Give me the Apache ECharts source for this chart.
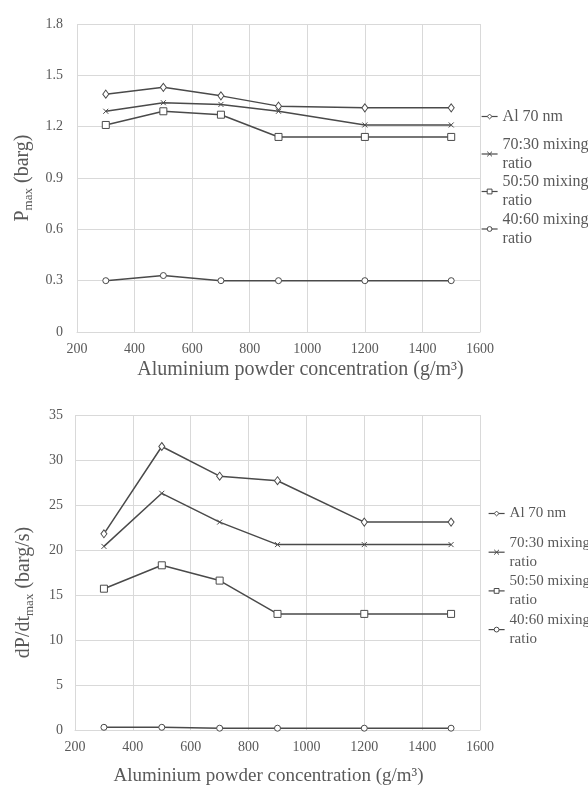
<!DOCTYPE html>
<html>
<head>
<meta charset="utf-8">
<script src="https://cdn.jsdelivr.net/npm/echarts@6/dist/echarts.min.js"></script>
<style>
  html, body { margin: 0; padding: 0; background: #ffffff; }
  #main { width: 588px; height: 787px; }
</style>
</head>
<body>
<div id="main"></div>
<script>
// concentrations (g/m3)
const concentrations = [300, 500, 700, 900, 1200, 1500];
const seriesNames = ['Al 70 nm', '70:30 mixing ratio', '50:50 mixing ratio', '40:60 mixing ratio'];

// Pmax (barg)
const pmaxAl = [1.39, 1.43, 1.38, 1.32, 1.31, 1.31];
const pmax7030 = [1.29, 1.34, 1.33, 1.29, 1.21, 1.21];
const pmax5050 = [1.21, 1.29, 1.27, 1.14, 1.14, 1.14];
const pmax4060 = [0.30, 0.33, 0.30, 0.30, 0.30, 0.30];

// dP/dt max (barg/s)
const rateAl = [21.8, 31.5, 28.2, 27.7, 23.1, 23.1];
const rate7030 = [20.4, 26.3, 23.1, 20.6, 20.6, 20.6];
const rate5050 = [15.7, 18.3, 16.6, 12.9, 12.9, 12.9];
const rate4060 = [0.3, 0.3, 0.2, 0.2, 0.2, 0.2];

const xTicks = [200, 1600, 200];      // min, max, interval
const pmaxTicks = [0, 1.8, 0.3];
const rateTicks = [0, 35, 5];

const FONT = 'Liberation Serif';
const TXT = '#595959';
const GRID = '#d9d9d9';
const LINE = '#4a4a4a';

const symbols = [
  { symbol: 'diamond', size: [6, 8] },
  { symbol: 'path://M0,0L10,10M10,0L0,10', size: 5 },
  { symbol: 'rect', size: 7 },
  { symbol: 'circle', size: 6 }
];

function pairs(vals) {
  return concentrations.map((c, i) => [c, vals[i]]);
}

function makeSeries(idx, arrays) {
  return arrays.map((vals, i) => ({
    name: seriesNames[i],
    type: 'line',
    xAxisIndex: idx,
    yAxisIndex: idx,
    data: pairs(vals),
    symbol: symbols[i].symbol,
    symbolSize: symbols[i].size,
    showAllSymbol: true,
    lineStyle: { color: LINE, width: 1.5 },
    itemStyle: { color: '#ffffff', borderColor: LINE, borderWidth: 1 },
    emphasis: { disabled: true },
    z: 3
  }));
}

function xAxis(gridIndex, fontSize, gap, pad) {
  return {
    gridIndex: gridIndex,
    type: 'value',
    min: xTicks[0], max: xTicks[1], interval: xTicks[2],
    name: 'Aluminium powder concentration (g/m\u00b3)',
    nameLocation: 'middle',
    nameGap: gap,
    nameTextStyle: { fontFamily: FONT, fontSize: fontSize, color: TXT, padding: pad },
    axisLine: { show: true, lineStyle: { color: GRID, width: 1 } },
    axisTick: { show: false },
    axisLabel: { fontFamily: FONT, fontSize: 14, color: TXT, margin: 10, formatter: v => String(v) },
    splitLine: { show: true, lineStyle: { color: GRID, width: 1 } }
  };
}

function yAxis(gridIndex, ticks, name, gap, pad, margin) {
  return {
    gridIndex: gridIndex,
    type: 'value',
    min: ticks[0], max: ticks[1], interval: ticks[2],
    name: name,
    nameLocation: 'middle',
    nameRotate: 90,
    nameGap: gap,
    nameTextStyle: {
      padding: pad,
      rich: {
        a: { fontFamily: FONT, fontSize: 20, color: TXT, lineHeight: 24 },
        s: { fontFamily: FONT, fontSize: 13, color: TXT, lineHeight: 13, verticalAlign: 'bottom' }
      }
    },
    axisLine: { show: false },
    axisTick: { show: false },
    axisLabel: { fontFamily: FONT, fontSize: 14, color: TXT, margin: margin },
    splitLine: { show: true, lineStyle: { color: GRID, width: 1 } }
  };
}

function legend(top, left, fontSize, gap) {
  return {
    orient: 'vertical',
    top: top,
    left: left,
    padding: 0,
    itemGap: gap,
    itemWidth: 16,
    itemHeight: 6,
    selectedMode: false,
    itemStyle: { borderWidth: 1 },
    lineStyle: { width: 1.2 },
    textStyle: { fontFamily: FONT, fontSize: fontSize, color: TXT, lineHeight: 19 },
    formatter: n => n.replace('mixing ', 'mixing\n'),
    data: seriesNames.map((n, i) => ({
      name: n,
      textStyle: { padding: i === 0 ? [19, 0, 19, 0] : [19, 0, 0, 0] }
    }))
  };
}

const chart = echarts.init(document.getElementById('main'), null, { renderer: 'canvas' });
chart.setOption({
  animation: false,
  backgroundColor: '#ffffff',
  grid: [
    { left: 77, top: 24, width: 403, height: 308 },
    { left: 75, top: 415, width: 405, height: 315 }
  ],
  xAxis: [
    xAxis(0, 20, 28, [0, 0, 0, 44]),
    xAxis(1, 19, 37, [0, 18, 0, 0])
  ],
  yAxis: [
    yAxis(0, pmaxTicks, '{a|P}{s|max}{a| (barg)}', 41, [0, 0, 0, 0], 14),
    yAxis(1, rateTicks, '{a|dP/dt}{s|max}{a| (barg/s)}', 39, [0, 40, 0, 0], 12)
  ],
  legend: [
    legend(88, 481, 16, -19.5),
    legend(485, 488, 15, -18.3)
  ],
  series: makeSeries(0, [pmaxAl, pmax7030, pmax5050, pmax4060])
    .concat(makeSeries(1, [rateAl, rate7030, rate5050, rate4060]))
});
</script>
</body>
</html>
